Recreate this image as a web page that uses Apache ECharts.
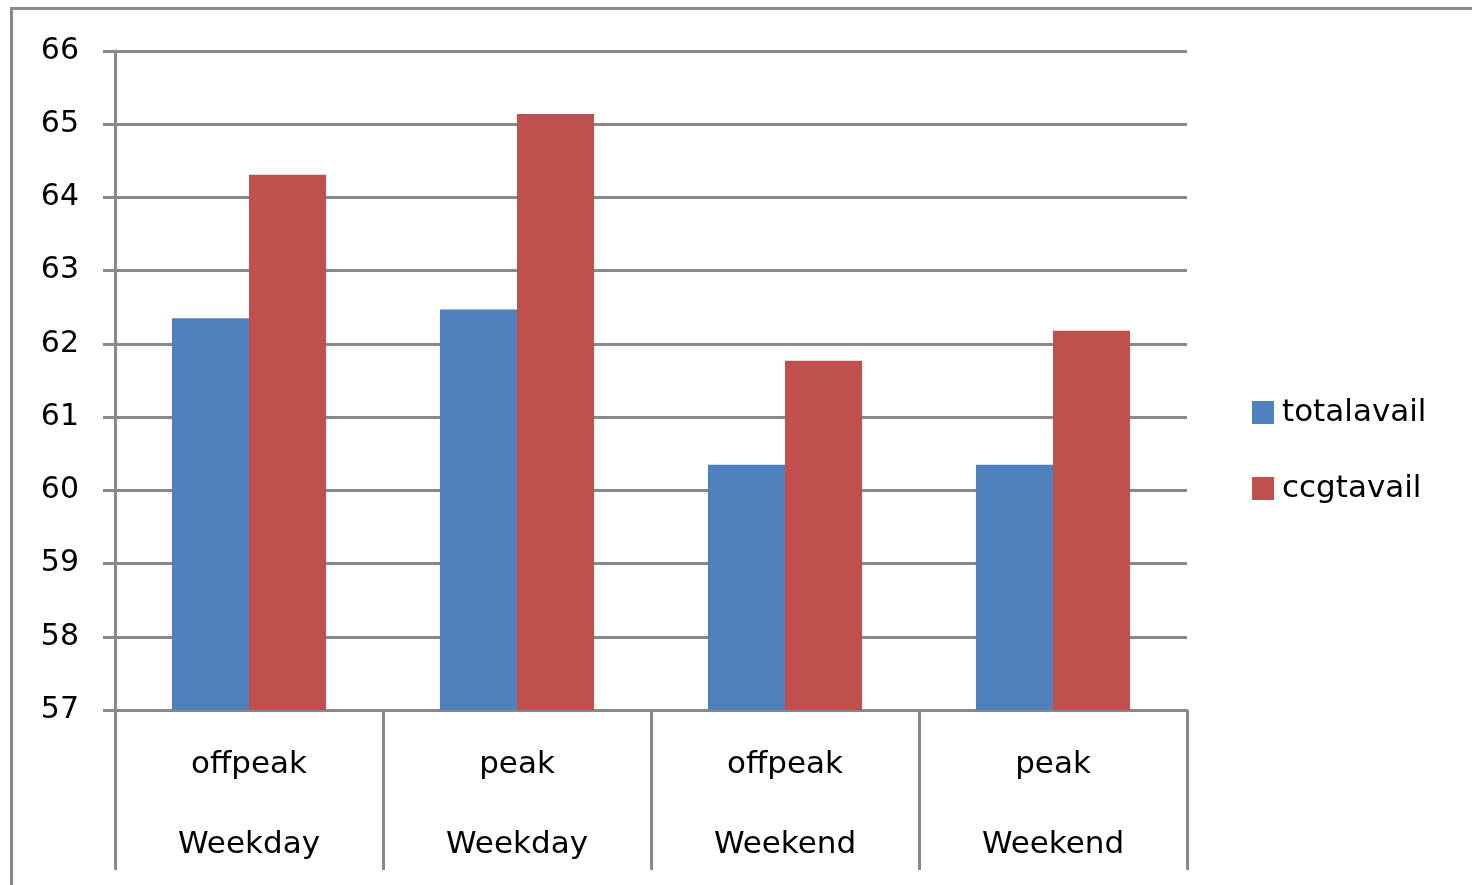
<!DOCTYPE html>
<html>
<head>
<meta charset="utf-8">
<script src="https://cdn.jsdelivr.net/npm/echarts@6/dist/echarts.min.js"></script>
<style>
html,body{margin:0;padding:0;background:#fff;}
#chart{width:1472px;height:885px;}
</style>
</head>
<body>
<div id="chart"></div>
<script>
const periods = ['offpeak', 'peak', 'offpeak', 'peak'];
const dayTypes = ['Weekday', 'Weekday', 'Weekend', 'Weekend'];
const seriesNames = ['totalavail', 'ccgtavail'];
const totalavail = [62.35, 62.47, 60.35, 60.35];
const ccgtavail = [64.31, 65.14, 61.77, 62.18];
const yTicks = { min: 57, max: 66, interval: 1 };

const categories = periods.map((p, i) => p + '\n' + dayTypes[i]);
const FONT = 'DejaVu Sans';
const GRAY = '#888888';

const chart = echarts.init(document.getElementById('chart'));
chart.setOption({
  animation: false,
  backgroundColor: '#ffffff',
  color: ['#4F81BD', '#C0504D'],
  grid: { left: 115, right: 285, top: 51, bottom: 175, containLabel: false },
  graphic: [{
    type: 'rect',
    shape: { x: 11.5, y: 8.5, width: 1600, height: 1000 },
    style: { fill: 'none', stroke: GRAY, lineWidth: 3 },
    silent: true
  }],
  legend: {
    orient: 'vertical',
    left: 1247,
    top: 392,
    itemWidth: 22,
    itemHeight: 23,
    itemGap: 45,
    icon: 'rect',
    data: seriesNames,
    textStyle: { fontFamily: FONT, fontSize: 31, color: '#000', lineHeight: 30, padding: [0, 0, 0, 3] }
  },
  xAxis: {
    type: 'category',
    data: categories,
    boundaryGap: true,
    axisLine: { show: true, lineStyle: { color: GRAY, width: 3 } },
    axisTick: { show: true, length: 160, lineStyle: { color: GRAY, width: 3 } },
    axisLabel: {
      fontFamily: FONT, fontSize: 31, color: '#000',
      lineHeight: 80, margin: 15, interval: 0
    },
    splitLine: { show: false }
  },
  yAxis: {
    type: 'value',
    min: yTicks.min, max: yTicks.max, interval: yTicks.interval,
    axisLine: { show: true, lineStyle: { color: GRAY, width: 3 } },
    axisTick: { show: true, length: 12, lineStyle: { color: GRAY, width: 3 } },
    axisLabel: { fontFamily: FONT, fontSize: 30, color: '#000', margin: 36, padding: [7, 0, 0, 0] },
    splitLine: { show: true, lineStyle: { color: GRAY, width: 3 } }
  },
  series: [
    { name: seriesNames[0], type: 'bar', data: totalavail, barGap: '0%', barCategoryGap: '42.5%' },
    { name: seriesNames[1], type: 'bar', data: ccgtavail, barGap: '0%', barCategoryGap: '42.5%' }
  ]
});
</script>
</body>
</html>
